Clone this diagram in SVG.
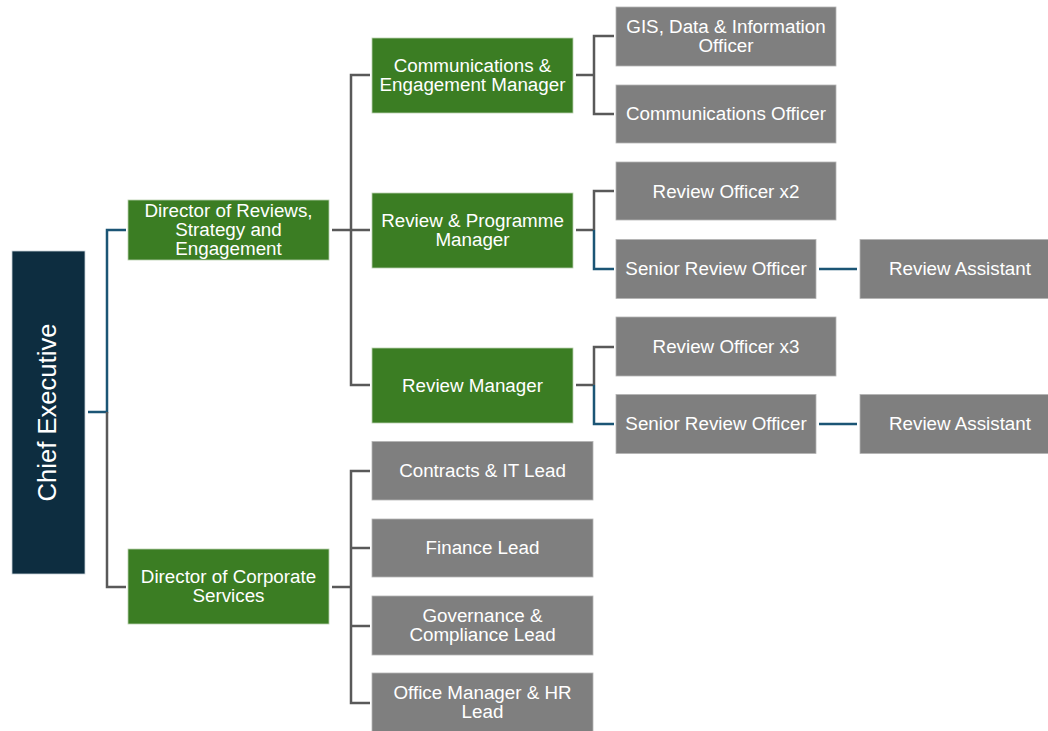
<svg xmlns="http://www.w3.org/2000/svg" width="1048" height="731" viewBox="0 0 1048 731">
  <style>
    .ceo { fill: #0d2d40; stroke: #c9d3da; stroke-width: 0.8; }
    .dir { fill: #3b7d23; stroke: #b9d0ae; stroke-width: 0.8; }
    .role { fill: #7f7f7f; stroke: #b4b4b4; stroke-width: 0.8; }
    text { font-family: "Liberation Sans", Arial, sans-serif; font-size: 18.8px; fill: #ffffff; text-anchor: middle; }
    .big { font-size: 25.6px; }
    .gray { fill: none; stroke: #595959; stroke-width: 2.5; }
    .blue { fill: none; stroke: #1b5575; stroke-width: 2.5; }
  </style>

  <!-- connectors -->
  <g id="connectors">
    <!-- chief executive to directors -->
    <path class="blue" d="M88 412 H107 V230 H126"/>
    <path class="gray" d="M107 412 V587 H126"/>
    <!-- director of reviews to managers -->
    <path class="gray" d="M332 230 H370"/>
    <path class="gray" d="M370 75 H351 V385 H370"/>
    <!-- director of corporate services to leads -->
    <path class="gray" d="M332 587 H351"/>
    <path class="gray" d="M370 471 H351 V703 H370"/>
    <path class="gray" d="M351 548 H370"/>
    <path class="gray" d="M351 626 H370"/>
    <!-- communications manager to officers -->
    <path class="gray" d="M576 75 H594"/>
    <path class="gray" d="M614 36 H594 V114 H614"/>
    <!-- review & programme manager -->
    <path class="gray" d="M576 230 H594"/>
    <path class="gray" d="M614 191 H594 V230"/>
    <path class="blue" d="M594 230 V269 H614"/>
    <path class="blue" d="M819 269 H857"/>
    <!-- review manager -->
    <path class="gray" d="M576 385 H594"/>
    <path class="gray" d="M614 347 H594 V385"/>
    <path class="blue" d="M594 385 V424 H614"/>
    <path class="blue" d="M819 424 H857"/>
  </g>

  <g id="chief-executive">
    <rect class="ceo" x="12" y="251" width="73" height="323"/>
    <text class="big" transform="translate(56 412.5) rotate(-90)">Chief Executive</text>
  </g>

  <g id="director-reviews">
    <rect class="dir" x="128" y="200" width="201" height="60"/>
    <text x="228.5" y="217">Director of Reviews,</text>
    <text x="228.5" y="236">Strategy and</text>
    <text x="228.5" y="255">Engagement</text>
  </g>

  <g id="director-corporate">
    <rect class="dir" x="128" y="549" width="201" height="75"/>
    <text x="228.5" y="583">Director of Corporate</text>
    <text x="228.5" y="602">Services</text>
  </g>

  <g id="comms-manager">
    <rect class="dir" x="372" y="38" width="201" height="75"/>
    <text x="472.5" y="72">Communications &amp;</text>
    <text x="472.5" y="91">Engagement Manager</text>
  </g>

  <g id="review-programme-manager">
    <rect class="dir" x="372" y="193" width="201" height="75"/>
    <text x="472.5" y="227">Review &amp; Programme</text>
    <text x="472.5" y="246">Manager</text>
  </g>

  <g id="review-manager">
    <rect class="dir" x="372" y="348" width="201" height="75"/>
    <text x="472.5" y="391.5">Review Manager</text>
  </g>

  <g id="gis-officer">
    <rect class="role" x="616" y="7" width="220" height="59"/>
    <text x="726" y="33">GIS, Data &amp; Information</text>
    <text x="726" y="52">Officer</text>
  </g>

  <g id="comms-officer">
    <rect class="role" x="616" y="85" width="220" height="58"/>
    <text x="726" y="120">Communications Officer</text>
  </g>

  <g id="review-officer-x2">
    <rect class="role" x="616" y="162" width="220" height="58"/>
    <text x="726" y="197.5">Review Officer x2</text>
  </g>

  <g id="senior-review-officer-1">
    <rect class="role" x="616" y="239.5" width="200" height="59"/>
    <text x="716" y="275">Senior Review Officer</text>
  </g>

  <g id="review-assistant-1">
    <rect class="role" x="860" y="239.5" width="200" height="59"/>
    <text x="960" y="275">Review Assistant</text>
  </g>

  <g id="review-officer-x3">
    <rect class="role" x="616" y="317" width="220" height="59"/>
    <text x="726" y="352.5">Review Officer x3</text>
  </g>

  <g id="senior-review-officer-2">
    <rect class="role" x="616" y="394.5" width="200" height="59"/>
    <text x="716" y="430">Senior Review Officer</text>
  </g>

  <g id="review-assistant-2">
    <rect class="role" x="860" y="394.5" width="200" height="59"/>
    <text x="960" y="430">Review Assistant</text>
  </g>

  <g id="contracts-it-lead">
    <rect class="role" x="372" y="441.5" width="221" height="58.5"/>
    <text x="482.5" y="477">Contracts &amp; IT Lead</text>
  </g>

  <g id="finance-lead">
    <rect class="role" x="372" y="519" width="221" height="58"/>
    <text x="482.5" y="554">Finance Lead</text>
  </g>

  <g id="governance-lead">
    <rect class="role" x="372" y="596" width="221" height="59"/>
    <text x="482.5" y="622">Governance &amp;</text>
    <text x="482.5" y="641">Compliance Lead</text>
  </g>

  <g id="office-manager-hr-lead">
    <rect class="role" x="372" y="673" width="221" height="60"/>
    <text x="482.5" y="699">Office Manager &amp; HR</text>
    <text x="482.5" y="718">Lead</text>
  </g>
</svg>
